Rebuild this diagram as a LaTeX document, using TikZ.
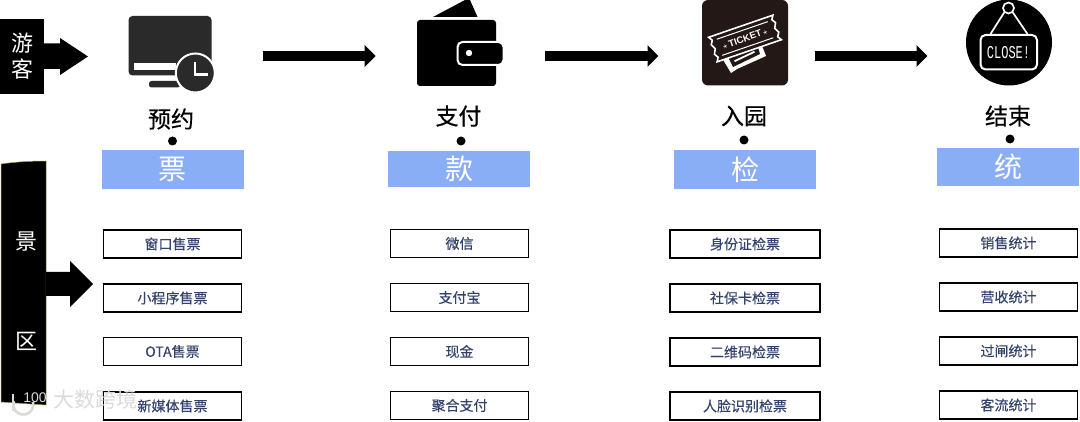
\documentclass[tikz,border=0pt]{standalone}
\usepackage{fontspec}
\setmainfont{Noto Sans CJK SC}
\newfontfamily\latinf{Liberation Sans}
\newfontfamily\monof{Liberation Mono}
\newfontfamily\stagef[FakeBold=0.5]{Noto Sans CJK SC}
\newfontfamily\itemf[FakeBold=0.25]{Noto Sans CJK SC}
\usetikzlibrary{arrows.meta,calc}
\definecolor{boxtext}{HTML}{34436E}
\definecolor{bluebar}{HTML}{8AAEF6}
\definecolor{icon}{HTML}{2A2A2A}
\definecolor{tk}{HTML}{231815}
\definecolor{wmgray}{HTML}{DADADA}
\tikzset{
  itembox/.style={draw=black,line width=1.6pt,fill=white,minimum width=138pt,minimum height=28pt,inner sep=0pt,text=boxtext,font=\itemf\fontsize{14}{15}\selectfont},
  stage/.style={font=\stagef\fontsize{23}{24}\selectfont,text=black,inner sep=0pt},
  bar/.style={fill=bluebar,draw=none,minimum width=142pt,inner sep=0pt,text=white,font=\fontsize{28}{29}\selectfont},
  dotn/.style={circle,fill=black,draw=none,minimum size=9pt,inner sep=0pt},
  flow/.style={line width=10pt,-{Triangle[length=11pt,width=21pt]},black},
  sidetext/.style={text=white,inner sep=0pt,font=\fontsize{22}{24}\selectfont}
}
\begin{document}
\begin{tikzpicture}[x=1pt,y=-1pt]
\useasboundingbox (0,0) rectangle (1080,422);
% visitors
\fill[black] (0,19) rectangle (44,94);
\node[sidetext] (you) at (22.5,43) {游};
\node[sidetext] (ke) at (22.5,69) {客};
\fill[black] (44,43.5) -- (60,43.5) -- (60,38) -- (88,56.5) -- (60,75) -- (60,69) -- (44,69) -- cycle;
% scenic area
\draw[draw=black!20!yellow!70!black,line width=.5pt,fill=black] (1,164) .. controls (15,162) and (30,161) .. (46,161) -- (46,405) .. controls (30,404) and (15,403) .. (1,402) -- cycle;
\node[sidetext] (jing) at (27,242) {景};
\node[sidetext] (qu) at (27,341) {区};
\fill[black] (46,272) -- (70,272) -- (70,261) -- (93,284) -- (70,307) -- (70,296) -- (46,296) -- cycle;
% icon: monitor
\fill[icon,rounded corners=4pt] (128.5,16) rectangle (211.5,75.5);
\fill[white] (134,63.5) rectangle (176,70);
\fill[icon,rounded corners=2.5pt] (149,81) rectangle (180,87.5);
\fill[icon,draw=white,line width=2pt] (195.3,73) circle (19.5);
\draw[white,line width=2.2pt] (195.3,62) -- (195.3,74.5) -- (208,74.5);
% icon: wallet
\fill[black] (433,17) -- (465,0) -- (470,0) -- (477.5,17) -- cycle;
\fill[black,rounded corners=3pt] (417,20) rectangle (496,86);
\fill[black,draw=white,line width=2pt,rounded corners=5pt] (457.5,42) rectangle (503.5,65);
\fill[white] (469,53) circle (3.2);
% icon: ticket
\fill[tk,rounded corners=6pt] (702,0) rectangle (788,85.5);
\fill[white] (722,58) -- (731,73) -- (737,69) -- (766,56) -- (762,46) -- cycle;
\fill[tk] (728,57) -- (733,67) -- (760,54) -- (757,44) -- cycle;
\fill[white] (734,60.5) -- (754,51) -- (755,52.5) -- (735,62) -- cycle;
\begin{scope}[shift={(745,38.5)},rotate=19]
  \draw[white,line width=1.6pt,fill=tk] (-34,-13) -- (34,-13) -- (31.5,-9) -- (34,-5) -- (31.5,0) -- (34,5) -- (31.5,9) -- (34,13) -- (-34,13) -- (-31.5,9) -- (-34,5) -- (-31.5,0) -- (-34,-5) -- (-31.5,-9) -- cycle;
  \draw[white,line width=1pt] (-27,-8.5) -- (27,-8.5) (-27,8.5) -- (27,8.5);
  \node[text=white,rotate=19,inner sep=0pt,font=\latinf\bfseries\fontsize{9.5}{10}\selectfont] (tkt) at (0,0) {$\star$\,TICKET\,$\star$};
\end{scope}
% icon: close sign
\fill[black] (1009,42.5) circle (43);
\draw[white,line width=1.7pt] (1008.5,8) circle (5.5);
\draw[white,line width=1.7pt] (990.5,34) -- (1004.5,12) (1027.5,34) -- (1012.5,12);
\draw[white,line width=2pt,rounded corners=5pt] (980.5,35) rectangle (1037,69.5);
\node[text=white,inner sep=0pt,font=\monof\fontsize{12}{13}\selectfont] (closetxt) at (1008.5,52.5) {\scalebox{1}[1.5]{CLOSE!}};
% stage labels
\node[stage] (s1) at (171,119) {预约};
\node[stage] (s2) at (458.5,116) {支付};
\node[stage] (s3) at (744,116) {入园};
\node[stage] (s4) at (1008,116) {结束};
\node[dotn] (d1) at (172.5,141) {};
\node[dotn] (d2) at (461,141) {};
\node[dotn] (d3) at (744,140) {};
\node[dotn] (d4) at (1010,139) {};
\node[bar,minimum height=39.3pt] (b1) at (172.7,169.6) {票};
\node[bar,minimum height=36.6pt] (b2) at (459.4,169) {款};
\node[bar,minimum height=39.3pt] (b3) at (745,169.3) {检};
\node[bar,minimum height=38.5pt] (b4) at (1008.3,166.8) {统};
\coordinate (a1s) at (263,56);
\coordinate (a1e) at (375.7,56);
\coordinate (a2s) at (545,56);
\coordinate (a2e) at (658.5,56);
\coordinate (a3s) at (815,56);
\coordinate (a3e) at (927.5,56);
\draw[flow] (a1s) -- (a1e);
\draw[flow] (a2s) -- (a2e);
\draw[flow] (a3s) -- (a3e);
% item boxes
\node[itembox] (c1a) at (172.5,244) {窗口售票};
\node[itembox] (c1b) at (172.5,298) {小程序售票};
\node[itembox] (c1c) at (172.5,351.5) {OTA售票};
\node[itembox] (c1d) at (172.5,406) {新媒体售票};
\node[itembox] (c2a) at (459.5,243.5) {微信};
\node[itembox] (c2b) at (459.5,297.5) {支付宝};
\node[itembox] (c2c) at (459.5,351.5) {现金};
\node[itembox] (c2d) at (459.5,405.5) {聚合支付};
\node[itembox,minimum width=150pt] (c3a) at (745,244) {身份证检票};
\node[itembox,minimum width=150pt] (c3b) at (745,298) {社保卡检票};
\node[itembox,minimum width=150pt] (c3c) at (745,352) {二维码检票};
\node[itembox,minimum width=150pt] (c3d) at (745,406) {人脸识别检票};
\node[itembox] (c4a) at (1008.5,243) {销售统计};
\node[itembox] (c4b) at (1008.5,297) {营收统计};
\node[itembox] (c4c) at (1008.5,351) {过闸统计};
\node[itembox] (c4d) at (1008.5,405) {客流统计};
% watermark
\node[text=wmgray,inner sep=0pt,font=\fontsize{21}{22}\selectfont] (wm) at (95.5,399.5) {大数跨境};
\draw[wmgray,line width=2.4pt] (13,394) -- (13,411);
\draw[wmgray,line width=2.6pt] (33,402) arc[start angle=-15,end angle=200,radius=10];
\node[text=wmgray,inner sep=0pt,font=\latinf\fontsize{14}{15}\selectfont] (wm2) at (35,398) {100};
\end{tikzpicture}
\end{document}
